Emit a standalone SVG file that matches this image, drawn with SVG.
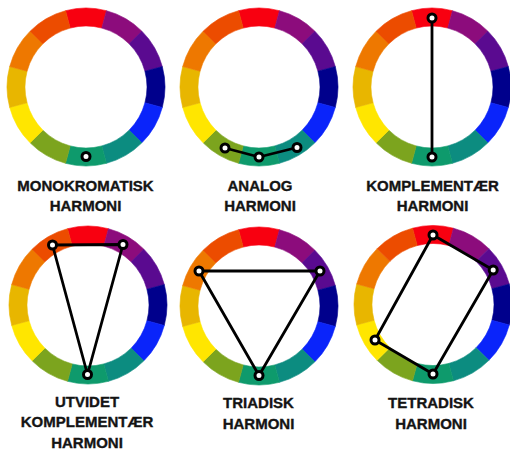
<svg xmlns="http://www.w3.org/2000/svg" xmlns:xlink="http://www.w3.org/1999/xlink" width="510" height="452" viewBox="0 0 510 452">
<style>
.lbl{font-family:"Liberation Sans",Arial,sans-serif;font-weight:bold;font-size:15px;fill:#141414;stroke:#141414;stroke-width:0.35;text-anchor:middle}
.ln{stroke:#000;stroke-width:2.8;fill:none;stroke-linejoin:round}
.mk{fill:#fff;stroke:#000;stroke-width:3}
</style>
<defs>
<g id="wheel">
<path fill="#F80010" stroke="#F80010" stroke-width="0.6" d="M-20.447,-76.308A79,79 0 0 1 20.447,-76.308L15.788,-58.921A61,61 0 0 0 -15.788,-58.921Z"/>
<path fill="#8C0C7C" stroke="#8C0C7C" stroke-width="0.6" d="M20.447,-76.308A79,79 0 0 1 55.861,-55.861L43.134,-43.134A61,61 0 0 0 15.788,-58.921Z"/>
<path fill="#5A0A90" stroke="#5A0A90" stroke-width="0.6" d="M55.861,-55.861A79,79 0 0 1 76.308,-20.447L58.921,-15.788A61,61 0 0 0 43.134,-43.134Z"/>
<path fill="#00008C" stroke="#00008C" stroke-width="0.6" d="M76.308,-20.447A79,79 0 0 1 76.308,20.447L58.921,15.788A61,61 0 0 0 58.921,-15.788Z"/>
<path fill="#0A24FA" stroke="#0A24FA" stroke-width="0.6" d="M76.308,20.447A79,79 0 0 1 55.861,55.861L43.134,43.134A61,61 0 0 0 58.921,15.788Z"/>
<path fill="#0C8C80" stroke="#0C8C80" stroke-width="0.6" d="M55.861,55.861A79,79 0 0 1 20.447,76.308L15.788,58.921A61,61 0 0 0 43.134,43.134Z"/>
<path fill="#0E9A6C" stroke="#0E9A6C" stroke-width="0.6" d="M20.447,76.308A79,79 0 0 1 -20.447,76.308L-15.788,58.921A61,61 0 0 0 15.788,58.921Z"/>
<path fill="#7CA41E" stroke="#7CA41E" stroke-width="0.6" d="M-20.447,76.308A79,79 0 0 1 -55.861,55.861L-43.134,43.134A61,61 0 0 0 -15.788,58.921Z"/>
<path fill="#FFE600" stroke="#FFE600" stroke-width="0.6" d="M-55.861,55.861A79,79 0 0 1 -76.308,20.447L-58.921,15.788A61,61 0 0 0 -43.134,43.134Z"/>
<path fill="#E8B600" stroke="#E8B600" stroke-width="0.6" d="M-76.308,20.447A79,79 0 0 1 -76.308,-20.447L-58.921,-15.788A61,61 0 0 0 -58.921,15.788Z"/>
<path fill="#EE7800" stroke="#EE7800" stroke-width="0.6" d="M-76.308,-20.447A79,79 0 0 1 -55.861,-55.861L-43.134,-43.134A61,61 0 0 0 -58.921,-15.788Z"/>
<path fill="#EC4C00" stroke="#EC4C00" stroke-width="0.6" d="M-55.861,-55.861A79,79 0 0 1 -20.447,-76.308L-15.788,-58.921A61,61 0 0 0 -43.134,-43.134Z"/>
</g>
</defs>
<rect width="510" height="452" fill="#fff"/>

<g id="monokromatisk">
<use xlink:href="#wheel" href="#wheel" transform="translate(86,87)"/>
<text class="lbl" x="85.5" y="190.5">MONOKROMATISK</text>
<text class="lbl" x="85.5" y="211">HARMONI</text>
</g>
<g id="analog">
<use xlink:href="#wheel" href="#wheel" transform="translate(259,87)"/>
<text class="lbl" x="260" y="190.5">ANALOG</text>
<text class="lbl" x="260" y="211">HARMONI</text>
</g>
<g id="komplementaer">
<use xlink:href="#wheel" href="#wheel" transform="translate(432,87)"/>
<text class="lbl" x="432.5" y="190.5">KOMPLEMENTÆR</text>
<text class="lbl" x="432.5" y="211">HARMONI</text>
</g>
<g id="utvidet">
<use xlink:href="#wheel" href="#wheel" transform="translate(88,305)"/>
<text class="lbl" x="87" y="406.5">UTVIDET</text>
<text class="lbl" x="87" y="427">KOMPLEMENTÆR</text>
<text class="lbl" x="87" y="448">HARMONI</text>
</g>
<g id="triadisk">
<use xlink:href="#wheel" href="#wheel" transform="translate(259,306)"/>
<text class="lbl" x="258.5" y="408">TRIADISK</text>
<text class="lbl" x="258.5" y="428.5">HARMONI</text>
</g>
<g id="tetradisk">
<use xlink:href="#wheel" href="#wheel" transform="translate(433,304.5)"/>
<text class="lbl" x="431" y="408">TETRADISK</text>
<text class="lbl" x="431" y="428.5">HARMONI</text>
</g>

<g id="connectors">
<polyline class="ln" points="225,148 259,157 297,147.5"/>
<line class="ln" x1="432" y1="18" x2="432" y2="157"/>
<polygon class="ln" points="52.5,245 123,244.5 87.5,374.5"/>
<polygon class="ln" points="199,271 320,271 259,375.5"/>
<polygon class="ln" points="433,235 493.2,270 433,374 375,340"/>
</g>

<g id="markers">
<circle class="mk" cx="86" cy="156.5" r="4"/>
<circle class="mk" cx="225" cy="148" r="4"/>
<circle class="mk" cx="259" cy="157" r="4"/>
<circle class="mk" cx="297" cy="147.5" r="4"/>
<circle class="mk" cx="432" cy="18" r="4"/>
<circle class="mk" cx="432" cy="157" r="4"/>
<circle class="mk" cx="52.5" cy="245" r="4"/>
<circle class="mk" cx="123" cy="244.5" r="4"/>
<circle class="mk" cx="87.5" cy="374.5" r="4"/>
<circle class="mk" cx="199" cy="271" r="4"/>
<circle class="mk" cx="320" cy="271" r="4"/>
<circle class="mk" cx="259" cy="375.5" r="4"/>
<circle class="mk" cx="433" cy="235" r="4"/>
<circle class="mk" cx="493.2" cy="270" r="4"/>
<circle class="mk" cx="433" cy="374" r="4"/>
<circle class="mk" cx="375" cy="340" r="4"/>
</g>
</svg>
